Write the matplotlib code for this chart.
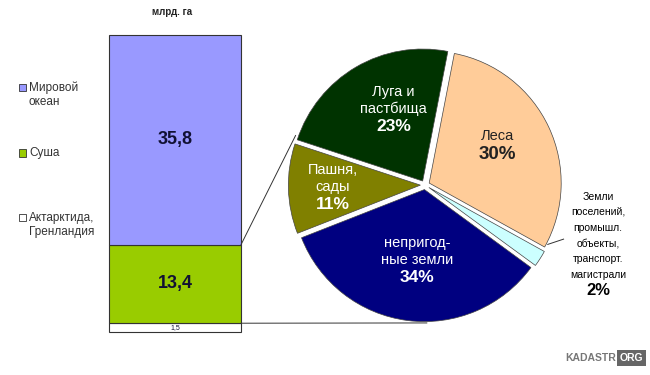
import matplotlib
matplotlib.use('Agg')
import matplotlib.pyplot as plt
from matplotlib.patches import Rectangle, ConnectionPatch

plt.rcParams['font.family'] = ['Liberation Sans', 'DejaVu Sans']

# stacked bar, млрд. га (bottom to top)
bar_labels = ['Актарктида,\nГренландия', 'Суша', 'Мировой\nокеан']
bar_values = [1.5, 13.4, 35.8]
bar_text = ['1,5', '13,4', '35,8']
bar_colors = ['white', '#99CC00', '#9999FF']

# land use pie, %
pie_labels = ['Леса', 'Земли\nпоселений,\nпромышл.\nобъекты,\nтранспорт.\nмагистрали',
              'непригод-\nные земли', 'Пашня,\nсады', 'Луга и\nпастбища']
pie_values = [30, 2, 34, 11, 23]
pie_colors = ['#FFCC99', '#CCFFFF', '#000080', '#808000', '#003300']
pie_text_colors = ['#222222', 'black', 'white', 'white', 'white']

W, H = 650, 375
fig = plt.figure(figsize=(6.5, 3.75), dpi=100)
fig.patch.set_facecolor('white')

def px(x0, y0, x1, y1):
    # pixel box (top-left origin) -> figure fraction
    return [x0 / W, 1 - y1 / H, (x1 - x0) / W, (y1 - y0) / H]

# ---- bar ----
axb = fig.add_axes(px(109, 35, 241, 332))
bottom = 0
for v, c, t in zip(bar_values, bar_colors, bar_text):
    axb.bar(0, v, bottom=bottom, width=1, color=c, edgecolor='#333333',
            linewidth=0.8, clip_on=False)
    fs = 5 if v < 5 else 13
    axb.text(0, bottom + v / 2, t, ha='center', va='center', fontsize=fs,
             fontweight='bold' if v >= 5 else 'normal', color='#111133')
    bottom += v
axb.set_xlim(-0.5, 0.5)
axb.set_ylim(0, sum(bar_values))
axb.axis('off')
fig.text(172 / W, 1 - 12 / H, 'млрд. га', ha='center', va='center',
         fontsize=7, fontweight='bold', color='#222222')

# legend on the left
leg_y = [225, 153, 95]
for lab, c, y in zip(bar_labels, bar_colors, leg_y):
    n = lab.count('\n') + 1
    ytop = y - (n - 1) * 7.5
    fig.patches.append(Rectangle((19 / W, 1 - (ytop + 3.5) / H), 7 / W, 7 / H,
                                 transform=fig.transFigure, facecolor=c,
                                 edgecolor='#333333', linewidth=0.6))
    fig.text(29 / W, 1 - y / H, lab, ha='left', va='center', fontsize=8.5,
             color='#333333', linespacing=1.25)

# ---- pie ----
R = 132
axp = fig.add_axes(px(425 - 140, 185 - 140, 425 + 140, 185 + 140))
wedges, _ = axp.pie(pie_values, colors=pie_colors, startangle=79, counterclock=False,
                    explode=[0.035] * len(pie_values),
                    wedgeprops=dict(edgecolor='#444444', linewidth=0.5))
axp.set_xlim(-140 / R, 140 / R)
axp.set_ylim(-140 / R, 140 / R)
axp.set_aspect('equal')
axp.axis('off')

# label anchors in pie units (between name and percent)
label_pos = [(0.55, 0.32), (1.31, -0.72), (-0.06, -0.62), (-0.70, -0.07), (-0.24, 0.52)]
pct_size = [13.5, 12, 12.5, 12.5, 12.5]
for i, (lab, v, (x, y)) in enumerate(zip(pie_labels, pie_values, label_pos)):
    small = v < 5
    axp.text(x, y, lab, ha='center', va='bottom', color=pie_text_colors[i],
             fontsize=7.5 if small else 10.5, linespacing=1.7 if small else 1.25,
             clip_on=False)
    axp.annotate('%d%%' % v, (x, y), xytext=(0, -2), textcoords='offset points',
                 ha='center', va='top', fontsize=pct_size[i], fontweight='bold',
                 color=pie_text_colors[i], annotation_clip=False)
axp.plot([0.93, 1.05], [-0.45, -0.41], color='#333333', linewidth=0.7, clip_on=False)

# connecting lines bar -> pie
top_land = bar_values[0] + bar_values[1]
for yb, pt in [(top_land, (-0.98, 0.376)), (bar_values[0], (0.015, -1.045))]:
    con = ConnectionPatch(xyA=(0.5, yb), coordsA=axb.transData,
                          xyB=pt, coordsB=axp.transData,
                          color='#333333', linewidth=0.7)
    fig.add_artist(con)

# watermark
fig.text(616 / W, 1 - 358 / H, 'KADASTR', ha='right', va='center', fontsize=7.5,
         fontweight='bold', color='#777777')
fig.text(620 / W, 1 - 358 / H, 'ORG', ha='left', va='center', fontsize=7.5,
         fontweight='bold', color='white',
         bbox=dict(boxstyle='square,pad=0.25', facecolor='#666666', edgecolor='none'))

fig.savefig('out.png', dpi=100, facecolor='white')
